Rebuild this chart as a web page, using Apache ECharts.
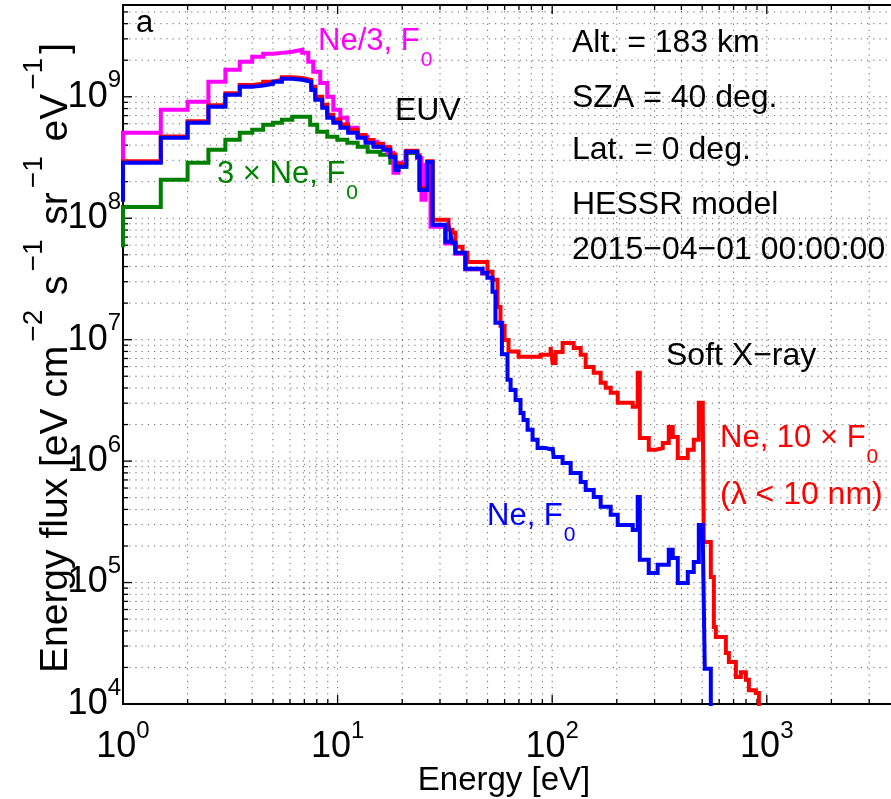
<!DOCTYPE html>
<html>
<head>
<meta charset="utf-8">
<script src="https://cdn.jsdelivr.net/npm/echarts@6/dist/echarts.min.js"></script>
<style>
html,body{margin:0;padding:0;background:#fff;}
#c{width:891px;height:799px;}
</style>
</head>
<body>
<div id="c"></div>
<script>
// ---------------- data (energy [eV], energy flux) ----------------
const blueE = [0.8, 1.0, 1.5, 2.0, 2.5, 3.0, 3.5, 4.0, 4.5, 5.0, 5.5, 6.15, 6.84, 7.54, 7.87, 8.48, 8.95, 9.55, 10.3, 11.2, 12.4, 13.5, 14.7, 16.3, 17.6, 18.6, 19.2, 20.9, 23.5, 24.1, 26.2, 27.7, 31.8, 33.6, 34.3, 35.4, 39.4, 47.3, 49.9, 52.7, 54.4, 58.3, 61.9, 64.0, 67.5, 71.2, 73.5, 76.8, 81.0, 85.5, 93.2, 100.4, 101.5, 111.8, 121.9, 135.7, 143.2, 156.1, 168.2, 187.3, 202, 237.3, 250.3, 256, 281.8, 310, 349.3, 364.6, 384.7, 428.3, 456.8, 482.2, 503.2, 514, 548.5, 600];
const blueF = [1.42e8, 2.86e8, 4.59e8, 6.11e8, 8.27e8, 1.04e9, 1.21e9, 1.24e9, 1.28e9, 1.33e9, 1.41e9, 1.38e9, 1.33e9, 1.14e9, 9.45e8, 8.12e8, 6.71e8, 6.11e8, 5.55e8, 5.05e8, 4.59e8, 4.18e8, 3.87e8, 3.66e8, 3.20e8, 2.50e8, 2.65e8, 3.52e8, 3.20e8, 1.71e8, 2.91e8, 8.82e7, 6.39e7, 7.30e7, 6.27e7, 5.19e7, 3.83e7, 3.55e7, 3.23e7, 2.48e7, 1.38e7, 7.6e6, 4.67e6, 3.86e6, 3.19e6, 2.49e6, 2.18e6, 1.81e6, 1.50e6, 1.28e6, 1.24e6, 1.31e6, 1.08e6, 9.66e5, 8.0e5, 6.74e5, 5.79e5, 5.07e5, 4.20e5, 3.61e5, 2.98e5, 2.71e5, 5.07e5, 1.54e5, 1.20e5, 1.40e5, 1.86e5, 1.59e5, 9.9e4, 1.22e5, 1.48e5, 2.98e5, 2.38e5, 1.95e4, 9e3, 9e3];

const redE = [0.8, 1.0, 1.5, 2.0, 2.5, 3.0, 3.5, 4.0, 4.5, 5.0, 5.5, 6.15, 6.84, 7.54, 7.87, 8.48, 8.95, 9.55, 10.3, 11.2, 12.4, 13.5, 14.7, 16.3, 17.6, 18.6, 19.2, 20.9, 23.5, 24.1, 26.2, 27.7, 32.9, 34.3, 35.4, 38.2, 40.3, 49.9, 52.7, 55.6, 57.4, 60.0, 62.6, 69.7, 88.3, 98.3, 100.4, 103.7, 111.8, 125.9, 135.7, 143.2, 156.1, 168.2, 177.5, 187.3, 202, 237.3, 250.3, 256, 281.8, 303.8, 327.5, 349.3, 364.6, 384.7, 428.3, 456.8, 482.2, 503.2, 508.7, 548.5, 566.5, 578.8, 644.5, 665.6, 717.6, 757, 798.9, 825.1, 889.5, 918.8, 1000];
const redF = [1.45e8, 2.95e8, 4.7e8, 6.3e8, 8.5e8, 1.07e9, 1.25e9, 1.28e9, 1.33e9, 1.38e9, 1.45e9, 1.43e9, 1.38e9, 1.21e9, 1.0e9, 8.6e8, 7.1e8, 6.5e8, 5.9e8, 5.35e8, 4.85e8, 4.4e8, 4.1e8, 3.85e8, 3.35e8, 2.65e8, 2.8e8, 3.6e8, 3.3e8, 1.78e8, 2.95e8, 9.7e7, 8.03e7, 7.58e7, 5.81e7, 5.2e7, 4.37e7, 3.62e7, 3.11e7, 1.86e7, 1.3e7, 9.96e6, 8.0e6, 7.22e6, 7.5e6, 8.72e6, 6.44e6, 7.93e6, 9.41e6, 8.56e6, 7.5e6, 5.97e6, 5.33e6, 4.41e6, 4.01e6, 3.65e6, 3.02e6, 2.80e6, 5.33e6, 1.55e6, 1.24e6, 1.28e6, 1.41e6, 1.91e6, 1.58e6, 1.06e6, 1.24e6, 1.50e6, 3.02e6, 2.31e6, 2.16e5, 1.11e5, 4.31e4, 3.56e4, 2.63e4, 2.22e4, 1.67e4, 1.83e4, 1.58e4, 1.30e4, 1.23e4, 8e3, 8e3];

const magE = [0.8, 1.0, 1.5, 2.0, 2.5, 3.0, 3.5, 4.0, 4.5, 5.0, 5.5, 6.15, 6.84, 7.30, 7.70, 8.30, 8.95, 9.55, 10.3, 11.1, 12.4, 13.8, 15.3, 17.1, 18.2, 19.2, 20.7, 23.5, 24.6, 25.7, 27.1, 31.8, 35.4, 39.4, 47.3, 49.9];
const magF = [3.0e8, 5.05e8, 7.82e8, 9.09e8, 1.33e9, 1.67e9, 1.94e9, 2.14e9, 2.26e9, 2.30e9, 2.35e9, 2.44e9, 2.30e9, 1.94e9, 1.61e9, 1.30e9, 1.0e9, 7.82e8, 6.71e8, 5.55e8, 4.68e8, 4.26e8, 3.87e8, 3.46e8, 2.37e8, 2.86e8, 3.52e8, 3.14e8, 1.42e8, 2.75e8, 8.5e7, 6.2e7, 5.1e7, 3.8e7, 3.5e7, 3.5e7];

const grnE = [0.8, 1.0, 1.5, 2.0, 2.5, 3.0, 3.5, 4.0, 4.5, 5.0, 5.5, 6.15, 7.45, 8.04, 8.95, 9.97, 11.1, 12.4, 13.8, 15.8, 17.6, 18.6, 19.2, 20.9, 23.5, 24.1, 26.2, 27.7, 31.8, 35.4, 39.4, 47.3, 49.9];
const grnF = [6.0e7, 1.24e8, 2.07e8, 2.86e8, 3.66e8, 4.42e8, 5.05e8, 5.35e8, 5.88e8, 6.11e8, 6.46e8, 6.84e8, 5.88e8, 5.15e8, 4.68e8, 4.42e8, 4.18e8, 3.87e8, 3.52e8, 3.33e8, 2.86e8, 2.5e8, 2.65e8, 3.45e8, 3.15e8, 1.75e8, 2.85e8, 8.7e7, 6.3e7, 5.15e7, 3.8e7, 3.5e7, 3.5e7];

// axis ranges and tick labels (powers of ten)
const xMin = 1, xMax = 4000;
const yMin = 1e4, yMax = 5.7e9;
const xTickExps = [0, 1, 2, 3];
const yTickExps = [4, 5, 6, 7, 8, 9];

// ---------------- helpers ----------------
const FONT = 'Liberation Sans, Arial, Helvetica, sans-serif';
function pairs(E, F) { return E.map((e, i) => [e, F[i]]); }
function powLabel(exps) {
  return function (v) {
    const l = Math.log10(v), r = Math.round(l);
    if (Math.abs(l - r) > 1e-6 || exps.indexOf(r) < 0) return '';
    return '{b|10}{s|' + r + '}';
  };
}
const tickRich = {
  b: { fontFamily: FONT, fontSize: 36, lineHeight: 56, verticalAlign: 'middle', color: '#000' },
  s: { fontFamily: FONT, fontSize: 24, lineHeight: 24, verticalAlign: 'top', color: '#000' }
};
// grid/tick positions: 1..9 x 10^d
const xGridVals = [], yGridVals = [];
for (let d = 0; d <= 3; d++) for (let m = 1; m <= 9; m++) { const v = m * Math.pow(10, d); if (v <= xMax) xGridVals.push([v, 1e5, m === 1 ? 1 : 0]); }
for (let d = 4; d <= 9; d++) for (let m = 1; m <= 9; m++) { const v = m * Math.pow(10, d); if (v <= yMax) yGridVals.push([10, v, m === 1 ? 1 : 0]); }

const gridStyle = { stroke: '#000', lineWidth: 1, lineDash: [1.2, 5], opacity: 0.6 };
const tickStyle = { stroke: '#000', lineWidth: 1.3 };

function vGrid(params, api) {
  const cs = params.coordSys;
  const x = api.coord([api.value(0), 1e5])[0];
  const len = api.value(2) ? 9 : 5;
  return { type: 'group', children: [
    { type: 'line', shape: { x1: x, y1: cs.y, x2: x, y2: cs.y + cs.height }, style: gridStyle },
    { type: 'line', shape: { x1: x, y1: cs.y + cs.height, x2: x, y2: cs.y + cs.height - len }, style: tickStyle },
    { type: 'line', shape: { x1: x, y1: cs.y, x2: x, y2: cs.y + len }, style: tickStyle }
  ]};
}
function hGrid(params, api) {
  const cs = params.coordSys;
  const y = api.coord([10, api.value(1)])[1];
  const len = api.value(2) ? 9 : 5;
  return { type: 'group', children: [
    { type: 'line', shape: { x1: cs.x, y1: y, x2: cs.x + cs.width, y2: y }, style: gridStyle },
    { type: 'line', shape: { x1: cs.x, y1: y, x2: cs.x + len, y2: y }, style: tickStyle }
  ]};
}
function stepSeries(name, E, F, color, z) {
  return { name: name, type: 'line', step: 'end', data: pairs(E, F), symbol: 'none', showSymbol: false,
    lineStyle: { color: color, width: 4, join: 'miter' }, z: z, silent: true, clip: true, animation: false };
}
function txt(text, x, y, color, size) {
  return { type: 'text', x: x, y: y, z: 100, silent: true,
    style: { text: text, fill: color, fontFamily: FONT, fontSize: size, align: 'left', verticalAlign: 'middle' } };
}
function subTxt(main, sub, x, yCap, color) {
  return { type: 'text', x: x, y: yCap - 15.5, z: 100, silent: true,
    style: { text: '{n|' + main + '}{u|' + sub + '}', align: 'left', verticalAlign: 'top',
      rich: {
        n: { fontFamily: FONT, fontSize: 31, lineHeight: 31, verticalAlign: 'top', fill: color, color: color },
        u: { fontFamily: FONT, fontSize: 21, lineHeight: 21, padding: [24, 0, 0, 1], verticalAlign: 'top', fill: color, color: color }
      } } };
}

const chart = echarts.init(document.getElementById('c'), null, { renderer: 'canvas' });
chart.setOption({
  animation: false,
  backgroundColor: '#fff',
  grid: { left: 123, top: 5, width: 773, height: 699, outerBoundsMode: 'none', containLabel: false,
    show: true, borderColor: '#000', borderWidth: 2, backgroundColor: 'transparent' },
  xAxis: {
    type: 'log', logBase: 10, min: xMin, max: xMax,
    axisLine: { show: true, onZero: false, lineStyle: { color: '#000', width: 2 } },
    axisTick: { show: false }, splitLine: { show: false }, minorTick: { show: false },
    axisLabel: { formatter: powLabel(xTickExps), rich: tickRich, margin: 15, showMinLabel: true, showMaxLabel: true, hideOverlap: false }
  },
  yAxis: {
    type: 'log', logBase: 10, min: yMin, max: yMax,
    axisLine: { show: true, onZero: false, lineStyle: { color: '#000', width: 2 } },
    axisTick: { show: false }, splitLine: { show: false }, minorTick: { show: false },
    axisLabel: { formatter: powLabel(yTickExps), rich: tickRich, margin: 2, showMinLabel: true, showMaxLabel: true, hideOverlap: false }
  },
  series: [
    { type: 'custom', renderItem: vGrid, data: xGridVals, encode: { x: 0, y: 1 }, z: 1, silent: true, clip: true },
    { type: 'custom', renderItem: hGrid, data: yGridVals, encode: { x: 0, y: 1 }, z: 1, silent: true, clip: true },
    stepSeries('3 × Ne, F0', grnE, grnF, '#008000', 2),
    stepSeries('Ne/3, F0', magE, magF, '#FF00FF', 3),
    stepSeries('Ne, 10 × F0', redE, redF, '#FF0000', 4),
    stepSeries('Ne, F0', blueE, blueF, '#0000FF', 5)
  ],
  graphic: [
    txt('a', 136, 23, '#000', 31),
    subTxt('Ne/3, F', '0', 318, 41.5, '#FF00FF'),
    txt('EUV', 395, 111, '#000', 32),
    subTxt('3 \u00d7 Ne, F', '0', 217, 174, '#008000'),
    txt('Alt. = 183 km', 572, 43, '#000', 32),
    txt('SZA = 40 deg.', 572, 98, '#000', 32),
    txt('Lat. = 0 deg.', 572, 150, '#000', 32),
    txt('HESSR model', 572, 205, '#000', 32),
    txt('2015\u221204\u221201 00:00:00', 572, 250, '#000', 32),
    txt('Soft X\u2212ray', 666, 356, '#000', 32),
    subTxt('Ne, 10 \u00d7 F', '0', 720, 438.5, '#FF0000'),
    txt('(\u03bb < 10 nm)', 720, 495, '#FF0000', 32),
    subTxt('Ne, F', '0', 487, 516, '#0000FF'),
    { type: 'text', x: 504, y: 781, z: 100, silent: true,
      style: { text: 'Energy [eV]', fill: '#000', fontFamily: FONT, fontSize: 33, align: 'center', verticalAlign: 'middle' } },
    { type: 'text', x: 40, y: 358, rotation: Math.PI / 2, z: 100, silent: true,
      style: { text: '{n|Energy flux [eV cm}{s|\u22122}{n| s}{s|\u22121}{n| sr}{s|\u22121}{n| eV}{s|\u22121}{n|]}',
        align: 'center', verticalAlign: 'middle',
        rich: {
          n: { fontFamily: FONT, fontSize: 39, lineHeight: 39, padding: [16, 0, 0, 0], verticalAlign: 'top', color: '#000' },
          s: { fontFamily: FONT, fontSize: 28, lineHeight: 28, padding: [0, 4, 0, 4], verticalAlign: 'top', color: '#000' }
        } } }
  ]
});
</script>
</body>
</html>
